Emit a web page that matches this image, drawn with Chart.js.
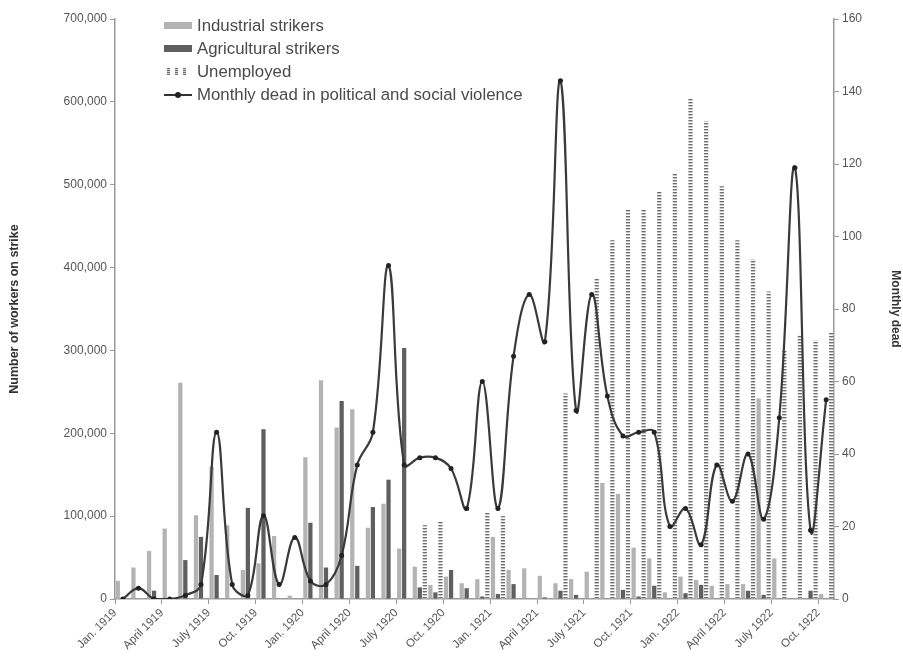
<!DOCTYPE html>
<html>
<head>
<meta charset="utf-8">
<script src="https://cdn.jsdelivr.net/npm/chart.js@4/dist/chart.umd.min.js"></script>
<style>
  html, body { margin: 0; padding: 0; background: #fff; }
  #wrap { position: relative; width: 903px; height: 657px; }
  #legend {
    position: absolute; left: 164px; top: 14px;
    font-family: "Liberation Sans", Arial, sans-serif; font-size: 16.8px; color: #4a4a4a;
  }
  .row { height: 23px; display: flex; align-items: center; }
  .sw { width: 28px; height: 7px; margin-right: 5px; flex: none; }
  .sw.ind { background: #b3b3b3; }
  .sw.agr { background: #5f5f5f; }
  .sw.unemp {
    width: 22px; margin-left: 3px; margin-right: 8px;
    background-image:
      repeating-linear-gradient(to right, transparent 0 3px, #fff 3px 8px),
      repeating-linear-gradient(to bottom, #6e6e6e 0 1px, #d0d0d0 1px 2px);
  }
  .sw.line { position: relative; height: 2px; background: #333; }
  .sw.line::after {
    content: ""; position: absolute; left: 11px; top: -2px;
    width: 6px; height: 6px; border-radius: 50%; background: #222;
  }
</style>
</head>
<body>
<div id="wrap">
  <canvas id="chart" width="903" height="657"></canvas>
  <div id="legend">
    <div class="row"><span class="sw ind"></span>Industrial strikers</div>
    <div class="row"><span class="sw agr"></span>Agricultural strikers</div>
    <div class="row"><span class="sw unemp"></span>Unemployed</div>
    <div class="row"><span class="sw line"></span>Monthly dead in political and social violence</div>
  </div>
</div>
<script>
// months Jan 1919 .. Oct 1922, only every third one gets a label on the axis
const MONTHS = [
  'Jan. 1919', 'Feb. 1919', 'Mar. 1919', 'April 1919', 'May 1919', 'June 1919',
  'July 1919', 'Aug. 1919', 'Sept. 1919', 'Oct. 1919', 'Nov. 1919', 'Dec. 1919',
  'Jan. 1920', 'Feb. 1920', 'Mar. 1920', 'April 1920', 'May 1920', 'June 1920',
  'July 1920', 'Aug. 1920', 'Sept. 1920', 'Oct. 1920', 'Nov. 1920', 'Dec. 1920',
  'Jan. 1921', 'Feb. 1921', 'Mar. 1921', 'April 1921', 'May 1921', 'June 1921',
  'July 1921', 'Aug. 1921', 'Sept. 1921', 'Oct. 1921', 'Nov. 1921', 'Dec. 1921',
  'Jan. 1922', 'Feb. 1922', 'Mar. 1922', 'April 1922', 'May 1922', 'June 1922',
  'July 1922', 'Aug. 1922', 'Sept. 1922', 'Oct. 1922'
];

const INDUSTRIAL = [
  22000, 38000, 58000, 85000, 261000, 101000, 160000, 89000, 35000, 43000, 76000, 4000,
  171000, 264000, 207000, 229000, 86000, 115000, 61000, 39000, 17000, 27000, 19000, 24000,
  75000, 35000, 37000, 28000, 19000, 24000, 33000, 140000, 127000, 62000, 49000, 8000,
  27000, 23000, 16000, 18000, 18000, 242000, 49000, 0, 0, 6000
];

const AGRICULTURAL = [
  0, 0, 10000, 0, 47000, 75000, 29000, 0, 110000, 205000, 0, 0,
  92000, 38000, 239000, 40000, 111000, 144000, 303000, 14000, 8000, 35000, 13000, 3000,
  6000, 18000, 0, 2000, 10000, 5000, 0, 0, 11000, 3000, 16000, 0,
  7000, 17000, 0, 0, 10000, 5000, 0, 0, 10000, 0
];

const UNEMPLOYED = [
  0, 0, 0, 0, 0, 0, 0, 0, 0, 0, 0, 0,
  0, 0, 0, 0, 0, 0, 0, 89000, 93000, 0, 0, 104000,
  100000, 0, 0, 0, 248000, 0, 387000, 433000, 470000, 470000, 492000, 513000,
  604000, 577000, 498000, 433000, 410000, 371000, 300000, 319000, 312000, 321000
];

const DEAD = [
  0, 3, 0, 0, 1, 4, 46, 4, 1, 23, 4, 17,
  5, 4, 12, 37, 46, 92, 37, 39, 39, 36, 25, 60,
  25, 67, 84, 71, 143, 52, 84, 56, 45, 46, 46, 20,
  25, 15, 37, 27, 40, 22, 50, 119, 19, 55
];

const FONT = '"Liberation Sans", Arial, sans-serif';
const AXIS_GREY = '#9a9a9a';
const TEXT_GREY = '#555';

// stacked short dashes for the unemployed columns
function dashPattern(ctx) {
  const tile = document.createElement('canvas');
  tile.width = 1;
  tile.height = 3;
  const t = tile.getContext('2d');
  t.fillStyle = '#ffffff';
  t.fillRect(0, 0, 1, 3);
  t.fillStyle = '#6e6e6e';
  t.fillRect(0, 0, 1, 1);
  t.fillStyle = '#c4c4c4';
  t.fillRect(0, 1, 1, 1);
  return ctx.createPattern(tile, 'repeat');
}

const canvas = document.getElementById('chart');
const ctx = canvas.getContext('2d');

const barCommon = {
  type: 'bar',
  yAxisID: 'y',
  order: 1,
  categoryPercentage: 0.96,
  barPercentage: 0.85,
  borderWidth: 0
};

new Chart(ctx, {
  data: {
    labels: MONTHS,
    datasets: [
      {
        type: 'line',
        label: 'Monthly dead in political and social violence',
        data: DEAD,
        yAxisID: 'y1',
        order: 0,
        borderColor: '#3a3a3a',
        borderWidth: 2.2,
        tension: 0.4,
        pointRadius: 2.5,
        pointBackgroundColor: '#222',
        pointBorderWidth: 0
      },
      { ...barCommon, label: 'Industrial strikers', data: INDUSTRIAL, backgroundColor: '#b3b3b3' },
      { ...barCommon, label: 'Agricultural strikers', data: AGRICULTURAL, backgroundColor: '#5f5f5f' },
      { ...barCommon, label: 'Unemployed', data: UNEMPLOYED, backgroundColor: dashPattern(ctx) }
    ]
  },
  options: {
    responsive: false,
    animation: false,
    layout: { padding: { top: 19, left: 0, right: 0, bottom: 0 } },
    plugins: {
      legend: { display: false },
      tooltip: { enabled: false }
    },
    scales: {
      x: {
        offset: true,
        grid: {
          offset: true,
          drawOnChartArea: false,
          tickLength: 5,
          color: c => (c.index % 3 === 0 ? AXIS_GREY : 'rgba(0,0,0,0)')
        },
        border: { color: AXIS_GREY, width: 1.5 },
        ticks: {
          autoSkip: false,
          minRotation: 45,
          maxRotation: 45,
          labelOffset: -7.8,
          padding: 2,
          color: TEXT_GREY,
          font: { family: FONT, size: 11.5 },
          callback: (v, i) => (i % 3 === 0 ? MONTHS[i] : '')
        },
        afterFit: s => { s.height = 58; }
      },
      y: {
        position: 'left',
        min: 0,
        max: 700000,
        grid: { drawOnChartArea: false, tickLength: 5, color: AXIS_GREY },
        border: { color: AXIS_GREY, width: 1.5 },
        ticks: {
          stepSize: 100000,
          color: TEXT_GREY,
          font: { family: FONT, size: 12 },
          callback: v => v.toLocaleString('en-US')
        },
        title: {
          display: true,
          text: 'Number of workers on strike',
          color: '#333',
          font: { family: FONT, size: 12.5, weight: 'bold' },
          padding: { top: 7, bottom: 0 }
        },
        afterFit: s => { s.width = 115; }
      },
      y1: {
        position: 'right',
        min: 0,
        max: 160,
        grid: { drawOnChartArea: false, tickLength: 5, color: AXIS_GREY },
        border: { color: AXIS_GREY, width: 1.5 },
        ticks: {
          stepSize: 20,
          color: TEXT_GREY,
          font: { family: FONT, size: 12 }
        },
        title: {
          display: true,
          text: 'Monthly dead',
          color: '#333',
          font: { family: FONT, size: 12, weight: 'bold' },
          padding: { top: 0, bottom: 2 }
        },
        afterFit: s => { s.width = 69; }
      }
    }
  }
});
</script>
</body>
</html>
